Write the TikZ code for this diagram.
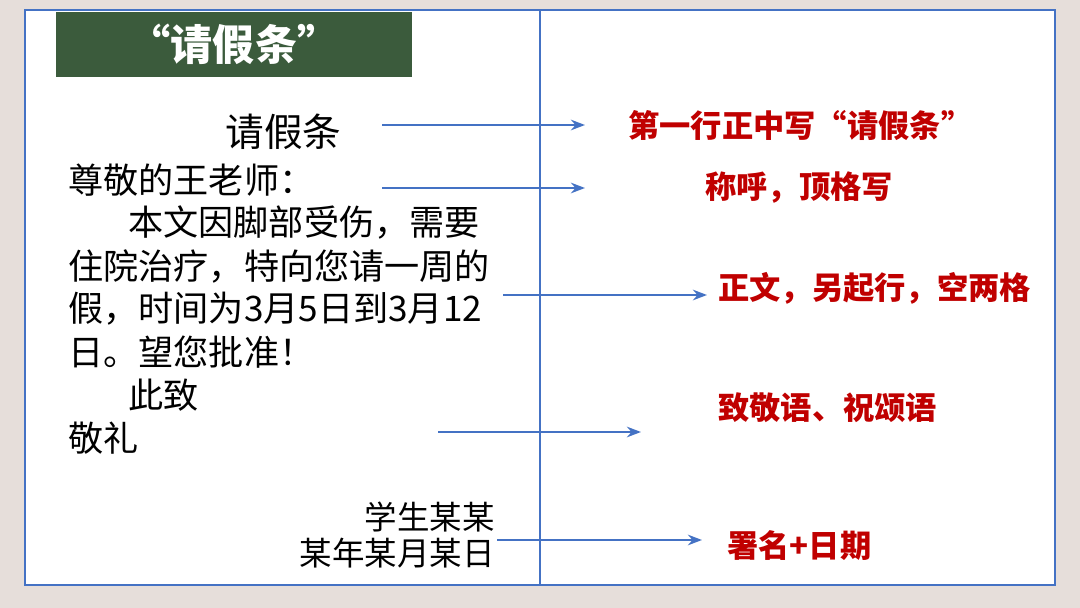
\documentclass[tikz,border=0pt]{standalone}
\usepackage{fontspec}
\setmainfont{Noto Sans CJK SC}
\usetikzlibrary{arrows.meta}
\definecolor{bgbeige}{HTML}{E6DEDA}
\definecolor{frameblue}{HTML}{4472C4}
\definecolor{headgreen}{HTML}{3B5B3C}
\definecolor{notered}{HTML}{C00000}
\tikzset{
  body/.style={anchor=west, inner sep=0pt, font=\fontsize{20}{22}\selectfont},
  signline/.style={anchor=east, inner sep=0pt, font=\fontsize{18.5}{20}\selectfont},
  note/.style={anchor=west, inner sep=0pt, text=notered, font=\bfseries\fontsize{17.8}{19}\selectfont},
  pointer/.style={frameblue, line width=1.3pt, -{Stealth[length=8pt,width=6pt]}}
}
\begin{document}
\begin{tikzpicture}[x=0.02cm, y=-0.02cm]
    \fill[bgbeige] (0,0) rectangle (1080,608);
    \useasboundingbox (0,0) rectangle (1080,608);

    \draw[frameblue, line width=1.5pt, fill=white] (25,10) rectangle (1055,585);
    \draw[frameblue, line width=1.2pt] (540,10) -- (540,585);
    \fill[headgreen] (56,12) rectangle (412,77);
    \node[text=white, font=\bfseries\fontsize{24}{26}\selectfont] (head) at (234,44) {“请假条”};

    % letter
    \node[body, font=\fontsize{22}{24}\selectfont] (title) at (225,132) {请假条};
    \node[body] (greet) at (68,180) {尊敬的王老师：};
    \node[body] (l1) at (128,222) {本文因脚部受伤，需要};
    \node[body] (l2) at (68,266) {住院治疗，特向您请一周的};
    \node[body] (l3) at (68,309) {假，时间为3月5日到3月12};
    \node[body] (l4) at (68,352) {日。望您批准！};
    \node[body] (l5) at (128,395) {此致};
    \node[body] (l6) at (68,438) {敬礼};
    \node[signline] (sign) at (495,517) {学生某某};
    \node[signline] (date) at (495,553) {某年某月某日};

    % notes
    \node[note] (n1) at (628,125) {第一行正中写“请假条”};
    \node[note] (n2) at (705,188) {称呼，顶格写};
    \node[note] (n3) at (718,288) {正文，另起行，空两格};
    \node[note] (n4) at (718,408) {致敬语、祝颂语};
    \node[note] (n5) at (727,546) {署名+日期};

    \coordinate (a1) at (382,125); \coordinate (b1) at (585,125);
    \coordinate (a2) at (382,188); \coordinate (b2) at (585,188);
    \coordinate (a3) at (503,295); \coordinate (b3) at (707,295);
    \coordinate (a4) at (438,432); \coordinate (b4) at (641,432);
    \coordinate (a5) at (497,540); \coordinate (b5) at (702,540);
    \foreach \i in {1,...,5}
        \draw[pointer] (a\i) -- (b\i);
\end{tikzpicture}
\end{document}
